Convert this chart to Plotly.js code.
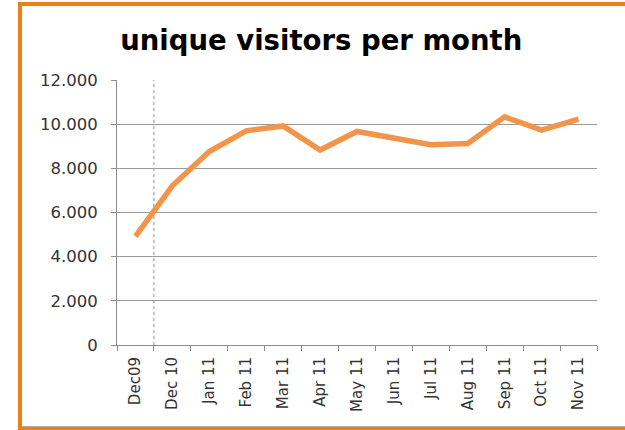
<!DOCTYPE html>
<html>
<head>
<meta charset="utf-8">
<script src="https://cdn.plot.ly/plotly-3.0.1.min.js"></script>
<style>
  html, body { margin: 0; padding: 0; background: #ffffff; }
  #wrap { position: relative; width: 625px; height: 430px; overflow: hidden; }
  #chart { position: absolute; left: 0; top: 0; width: 625px; height: 430px; }
  .b { position: absolute; background: #EE7F10; }
</style>
</head>
<body>
<div id="wrap">
  <div id="chart"></div>
  <div class="b" style="left:18px; top:2px; width:607px; height:4px;"></div>
  <div class="b" style="left:18px; top:2px; width:4px; height:428px;"></div>
  <div style="position:absolute; left:22px; top:426px; width:603px; height:1px; background:#b0a8a0;"></div>
  <div class="b" style="left:18px; top:427px; width:607px; height:3px;"></div>
</div>
<script>
const months = ["Dec09", "Dec 10", "Jan 11", "Feb 11", "Mar 11", "Apr 11", "May 11",
                "Jun 11", "Jul 11", "Aug 11", "Sep 11", "Oct 11", "Nov 11"];
const visitors = [4920, 7210, 8760, 9700, 9920, 8830, 9670, 9370, 9070, 9120, 10330, 9730, 10230];
const yTicks = [0, 2000, 4000, 6000, 8000, 10000, 12000];

const trace = {
  type: "scatter",
  mode: "lines",
  x: months,
  y: visitors,
  line: { color: "#F2954A", width: 5.5 },
  hoverinfo: "skip"
};

const layout = {
  width: 625,
  height: 430,
  margin: { l: 117, r: 28, t: 80, b: 85 },
  paper_bgcolor: "rgba(0,0,0,0)",
  plot_bgcolor: "#ffffff",
  separators: ",.",
  showlegend: false,
  title: {
    text: "<b>unique visitors per month</b>",
    font: { family: "DejaVu Sans", size: 27.5, color: "#000000" },
    x: 0.514, xref: "container", xanchor: "center",
    y: 0.905, yref: "container", yanchor: "middle"
  },
  xaxis: {
    type: "category",
    range: [-0.5, 12.5],
    tickson: "boundaries",
    ticks: "outside",
    ticklen: 5,
    tickcolor: "#8c8c8c",
    tickangle: -90,
    showgrid: false,
    showline: true,
    linecolor: "#8c8c8c",
    linewidth: 1,
    tickfont: { family: "DejaVu Sans", size: 15, color: "#333333" },
    ticklabelstandoff: 5,
    fixedrange: true
  },
  yaxis: {
    range: [0, 12000],
    tickvals: yTicks,
    tickformat: ",d",
    ticks: "outside",
    ticklen: 5,
    tickcolor: "#8c8c8c",
    showgrid: true,
    gridcolor: "#9a9a9a",
    gridwidth: 1,
    showline: true,
    linecolor: "#8c8c8c",
    linewidth: 1,
    zeroline: false,
    tickfont: { family: "DejaVu Sans", size: 16.5, color: "#333333" },
    ticklabelstandoff: 10,
    fixedrange: true
  },
  shapes: [{
    type: "line",
    xref: "x", yref: "y",
    x0: 0.5, x1: 0.5, y0: 0, y1: 12000,
    line: { color: "#8c8c8c", width: 1, dash: "3px,3px" },
    layer: "below"
  }]
};

Plotly.newPlot("chart", [trace], layout, { staticPlot: true, displayModeBar: false });
</script>
</body>
</html>
